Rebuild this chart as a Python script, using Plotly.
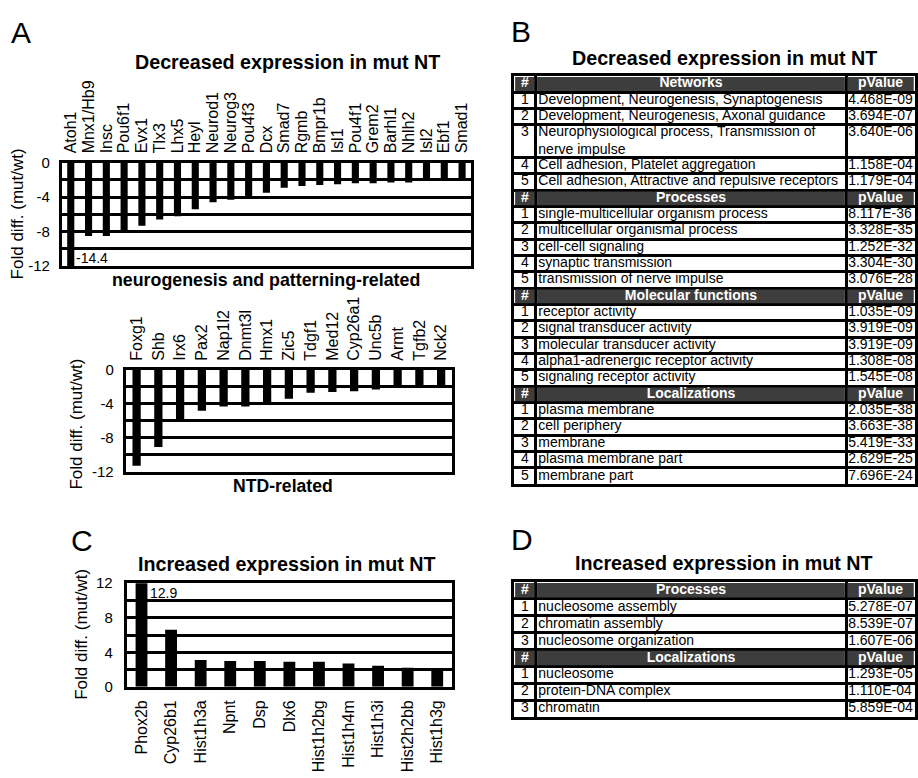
import plotly.graph_objects as go

W, H = 918, 778
FONT = "Liberation Sans, Arial, sans-serif"

# ---------------- data ----------------
neuro_genes = ["Atoh1", "Mnx1/Hb9", "Insc", "Pou6f1", "Evx1", "Tlx3", "Lhx5", "Heyl",
               "Neurod1", "Neurog3", "Pou4f3", "Dcx", "Smad7", "Rgmb", "Bmpr1b", "Isl1",
               "Pou4f1", "Grem2", "Barhl1", "Nhlh2", "Isl2", "Ebf1", "Smad1"]
neuro_fold = [-14.4, -8.5, -8.5, -8.0, -7.3, -6.6, -6.2, -5.4, -4.6, -4.3, -4.1, -3.5,
              -2.9, -2.7, -2.6, -2.5, -2.4, -2.4, -2.3, -2.3, -2.0, -1.9, -1.9]

ntd_genes = ["Foxg1", "Shb", "Irx6", "Pax2", "Nap1l2", "Dnmt3l", "Hmx1", "Zic5", "Tdgf1",
             "Med12", "Cyp26a1", "Unc5b", "Armt", "Tgfb2", "Nck2"]
ntd_fold = [-11.3, -9.1, -5.9, -4.8, -4.3, -4.3, -3.8, -3.4, -2.7, -2.6, -2.5, -2.3,
            -1.9, -1.9, -1.8]

inc_genes = ["Phox2b", "Cyp26b1", "Hist1h3a", "Npnt", "Dsp", "Dlx6", "Hist1h2bg",
             "Hist1h4m", "Hist1h3i", "Hist2h2bb", "Hist1h3g"]
inc_fold = [12.9, 6.6, 3.1, 3.0, 3.0, 2.9, 2.9, 2.7, 2.45, 2.2, 2.0]

dec_ticks = [0, -2, -4, -6, -8, -10, -12]
dec_ticktext = ["0", "", "-4", "", "-8", "", "-12"]
inc_ticks = [0, 2, 4, 6, 8, 10, 12]
inc_ticktext = ["0", "", "4", "", "8", "", "12"]

net_terms = ["Development, Neurogenesis, Synaptogenesis",
             "Development, Neurogenesis, Axonal guidance",
             "Neurophysiological process, Transmission of<br>nerve impulse",
             "Cell adhesion, Platelet aggregation",
             "Cell adhesion, Attractive and repulsive receptors"]
net_pvals = ["4.468E-09", "3.694E-07", "3.640E-06", "1.158E-04", "1.179E-04"]
proc_terms = ["single-multicellular organism process", "multicellular organismal process",
              "cell-cell signaling", "synaptic transmission", "transmission of nerve impulse"]
proc_pvals = ["8.117E-36", "3.328E-35", "1.252E-32", "3.304E-30", "3.076E-28"]
mf_terms = ["receptor activity", "signal transducer activity", "molecular transducer activity",
            "alpha1-adrenergic receptor activity", "signaling receptor activity"]
mf_pvals = ["1.035E-09", "3.919E-09", "3.919E-09", "1.308E-08", "1.545E-08"]
loc_terms = ["plasma membrane", "cell periphery", "membrane", "plasma membrane part",
             "membrane part"]
loc_pvals = ["2.035E-38", "3.663E-38", "5.419E-33", "2.629E-25", "7.696E-24"]

inc_proc_terms = ["nucleosome assembly", "chromatin assembly", "nucleosome organization"]
inc_proc_pvals = ["5.278E-07", "8.539E-07", "1.607E-06"]
inc_loc_terms = ["nucleosome", "protein-DNA complex", "chromatin"]
inc_loc_pvals = ["1.293E-05", "1.110E-04", "5.859E-04"]

table_cols = ["#", None, "pValue"]
col_widths = [22, 311, 69]


def px(x):
    return x / W


def py(y):
    return 1 - y / H


fig = go.Figure()

bar_style = dict(color="black", line=dict(width=0))
fig.add_trace(go.Bar(x=neuro_genes, y=neuro_fold, xaxis="x", yaxis="y", marker=bar_style, width=0.4))
fig.add_trace(go.Bar(x=ntd_genes, y=ntd_fold, xaxis="x2", yaxis="y2", marker=bar_style, width=0.38))
fig.add_trace(go.Bar(x=inc_genes, y=inc_fold, xaxis="x3", yaxis="y3", marker=bar_style, width=0.4))

HDR = "#3d3d3d"
TLW = 2.5  # table line width (px)
layout_axes = {}


def add_table(sections, ax_id, left, top, row_px, size=14):
    xa, ya = "x%d" % ax_id, "y%d" % ax_id
    rows = []
    for title, terms, pvals in sections:
        rows.append(("hdr", table_cols[0], title, table_cols[2], 1))
        for i, (t, p) in enumerate(zip(terms, pvals)):
            rows.append(("body", str(i + 1), t, p, t.count("<br>") + 1))
    edges = [0]
    for w in col_widths:
        edges.append(edges[-1] + w)
    total_w = edges[-1]
    bounds = [0]
    for r in rows:
        bounds.append(bounds[-1] + r[4])
    total_u = bounds[-1]

    # header cell fills
    hx, hb, hy = [], [], []
    for r, y0 in zip(rows, bounds):
        if r[0] == "hdr":
            for c in range(3):
                hy.append(y0 + 0.5)
                hb.append(edges[c] + TLW / 2)
                hx.append(col_widths[c] - TLW)
    fig.add_trace(go.Bar(orientation="h", x=hx, base=hb, y=hy, width=1 - TLW / row_px,
                         marker=dict(color=HDR, line=dict(width=0)), xaxis=xa, yaxis=ya,
                         hoverinfo="skip"))

    # texts per column
    for c in range(3):
        xs, ys, ts, pos, cols = [], [], [], [], []
        for r, y0 in zip(rows, bounds):
            kind = r[0]
            val = r[1 + c]
            if kind == "hdr":
                xs.append((edges[c] + edges[c + 1]) / 2)
                ys.append(y0 + 0.5)
                ts.append("<b>%s</b>" % val)
                pos.append("middle center")
                cols.append("white")
            else:
                if c == 0:
                    xs.append((edges[c] + edges[c + 1]) / 2)
                    pos.append("middle center")
                    ys.append(y0 + 0.5)
                elif c == 1:
                    xs.append(edges[c] + 2.5)
                    pos.append("middle right")
                    ys.append(y0 + r[4] / 2)
                else:
                    xs.append(edges[c] + 2)
                    pos.append("middle right")
                    ys.append(y0 + 0.5)
                ts.append(val)
                cols.append("black")
        fig.add_trace(go.Scatter(x=xs, y=ys, text=ts, mode="text", textposition=pos,
                                 textfont=dict(size=size, family=FONT, color=cols),
                                 xaxis=xa, yaxis=ya, cliponaxis=False, hoverinfo="skip"))

    grid = dict(showgrid=True, gridcolor="black", gridwidth=TLW, showticklabels=False,
                ticks="", showline=True, linecolor="black", linewidth=TLW, mirror=True,
                zeroline=False, fixedrange=True)
    layout_axes["xaxis%d" % ax_id] = dict(domain=[px(left), px(left + total_w)], anchor=ya,
                                          range=[0, total_w], tickvals=edges, **grid)
    layout_axes["yaxis%d" % ax_id] = dict(domain=[py(top + total_u * row_px), py(top)], anchor=xa,
                                          range=[total_u, 0], tickvals=bounds, **grid)


add_table([("Networks", net_terms, net_pvals),
           ("Processes", proc_terms, proc_pvals),
           ("Molecular functions", mf_terms, mf_pvals),
           ("Localizations", loc_terms, loc_pvals)], 4, 515, 68.3, 16.7)
add_table([("Processes", inc_proc_terms, inc_proc_pvals),
           ("Localizations", inc_loc_terms, inc_loc_pvals)], 5, 515, 585.7, 17.3)

frame = dict(showline=True, linecolor="black", linewidth=3, mirror=True,
             showgrid=False, zeroline=False, ticks="", fixedrange=True)
tickfont_y = dict(size=15, family=FONT, color="black")
tickfont_x = dict(size=16, family=FONT, color="black")

fig.update_layout(
    width=W, height=H, margin=dict(l=0, r=0, t=0, b=0),
    paper_bgcolor="white", plot_bgcolor="white", showlegend=False,
    barmode="overlay",
    font=dict(family=FONT, color="black"),
    xaxis=dict(domain=[px(62), px(472)], anchor="y", side="top", type="category",
               tickangle=-90, tickfont=tickfont_x, range=[-0.5, len(neuro_genes) - 0.5],
               tickmode="array", tickvals=neuro_genes, ticklabelstandoff=3, **frame),
    yaxis=dict(domain=[py(263), py(157)], anchor="x", range=[-12, 0],
               tickvals=dec_ticks, ticktext=dec_ticktext, tickfont=tickfont_y,
               ticklabelstandoff=6, **{**frame, "showgrid": True},
               gridcolor="black", gridwidth=3),
    xaxis2=dict(domain=[px(126), px(453)], anchor="y2", side="top", type="category",
                tickangle=-90, tickfont=tickfont_x, range=[-0.5, len(ntd_genes) - 0.5],
                tickmode="array", tickvals=ntd_genes, ticklabelstandoff=3, **frame),
    yaxis2=dict(domain=[py(473), py(369)], anchor="x2", range=[-12, 0],
                tickvals=dec_ticks, ticktext=dec_ticktext, tickfont=tickfont_y,
                ticklabelstandoff=6, **{**frame, "showgrid": True},
                gridcolor="black", gridwidth=3),
    xaxis3=dict(domain=[px(127), px(453)], anchor="y3", side="bottom", type="category",
                tickangle=-90, tickfont=tickfont_x, range=[-0.5, len(inc_genes) - 0.5],
                tickmode="array", tickvals=inc_genes, ticklabelstandoff=4, **frame),
    yaxis3=dict(domain=[py(693), py(587)], anchor="x3", range=[0, 12],
                tickvals=inc_ticks, ticktext=inc_ticktext, tickfont=tickfont_y,
                ticklabelstandoff=8, **{**frame, "showgrid": True},
                gridcolor="black", gridwidth=3),
    **layout_axes,
)

ann = []


def text(x, y, s, size, bold=False, angle=0, xanchor="center", yanchor="middle"):
    ann.append(dict(x=px(x), y=py(y), xref="paper", yref="paper",
                    text=("<b>%s</b>" % s) if bold else s,
                    showarrow=False, font=dict(size=size, family=FONT, color="black"),
                    textangle=angle, xanchor=xanchor, yanchor=yanchor))


# panel letters
text(21, 24, "A", 30)
text(522, 23, "B", 30)
text(82, 543, "C", 30)
text(523, 542, "D", 30)

# titles
text(288, 54, "Decreased expression in mut NT", 19.7, bold=True)
text(726, 50, "Decreased expression in mut NT", 19.7, bold=True)
text(288, 567, "Increased expression in mut NT", 19.7, bold=True)
text(726, 566, "Increased expression in mut NT", 19.7, bold=True)
text(267, 277, "neurogenesis and patterning-related", 17.8, bold=True)
text(284, 488, "NTD-related", 17.6, bold=True)

# y-axis titles
text(17, 209, "Fold diff. (mut/wt)", 17, angle=-90)
text(77, 424, "Fold diff. (mut/wt)", 17, angle=-90)
text(81, 639, "Fold diff. (mut/wt)", 17, angle=-90)

# clipped bar value labels
ann.append(dict(x=neuro_genes[0], y=-11.1, xref="x", yref="y", text="%.1f" % neuro_fold[0],
                showarrow=False, xanchor="left", yanchor="middle", xshift=3,
                font=dict(size=14, family=FONT, color="black")))
ann.append(dict(x=inc_genes[0], y=10.9, xref="x3", yref="y3", text="%.1f" % inc_fold[0],
                showarrow=False, xanchor="left", yanchor="middle", xshift=6,
                font=dict(size=14, family=FONT, color="black")))

fig.update_layout(annotations=ann)

fig.write_html("out.html", config={"displayModeBar": False},
               post_script="document.body.style.margin='0';")
